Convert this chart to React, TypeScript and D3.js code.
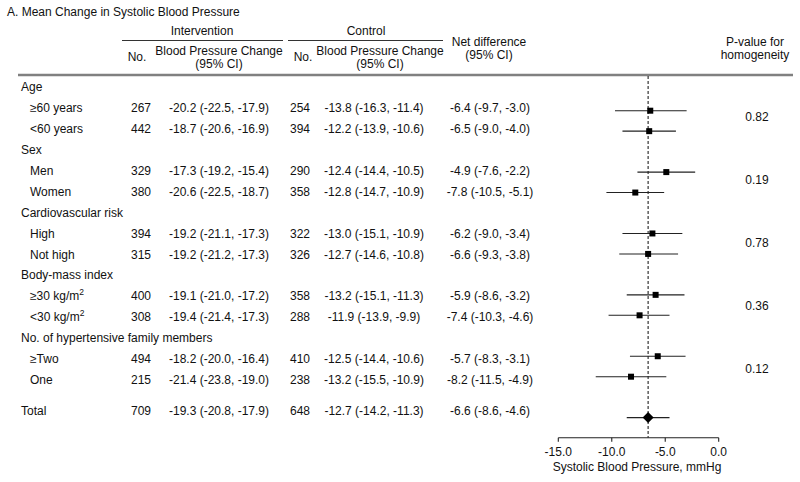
import React from "react";
import * as d3 from "d3";

// ---- Data ----
const rowLabels = [
  "Age", "≥60 years", "<60 years",
  "Sex", "Men", "Women",
  "Cardiovascular risk", "High", "Not high",
  "Body-mass index", "≥30 kg/m", "<30 kg/m",
  "No. of hypertensive family members", "≥Two", "One",
  "Total",
];
const isGroup = [true, false, false, true, false, false, true, false, false, true, false, false, true, false, false, false];
const hasSuper = [false, false, false, false, false, false, false, false, false, false, true, true, false, false, false, false];

const intNo = [null, 267, 442, null, 329, 380, null, 394, 315, null, 400, 308, null, 494, 215, 709];
const intMean = [null, -20.2, -18.7, null, -17.3, -20.6, null, -19.2, -19.2, null, -19.1, -19.4, null, -18.2, -21.4, -19.3];
const intLo = [null, -22.5, -20.6, null, -19.2, -22.5, null, -21.1, -21.2, null, -21.0, -21.4, null, -20.0, -23.8, -20.8];
const intHi = [null, -17.9, -16.9, null, -15.4, -18.7, null, -17.3, -17.3, null, -17.2, -17.3, null, -16.4, -19.0, -17.9];

const ctlNo = [null, 254, 394, null, 290, 358, null, 322, 326, null, 358, 288, null, 410, 238, 648];
const ctlMean = [null, -13.8, -12.2, null, -12.4, -12.8, null, -13.0, -12.7, null, -13.2, -11.9, null, -12.5, -13.2, -12.7];
const ctlLo = [null, -16.3, -13.9, null, -14.4, -14.7, null, -15.1, -14.6, null, -15.1, -13.9, null, -14.4, -15.5, -14.2];
const ctlHi = [null, -11.4, -10.6, null, -10.5, -10.9, null, -10.9, -10.8, null, -11.3, -9.9, null, -10.6, -10.9, -11.3];

const netMean = [null, -6.4, -6.5, null, -4.9, -7.8, null, -6.2, -6.6, null, -5.9, -7.4, null, -5.7, -8.2, -6.6];
const netLo = [null, -9.7, -9.0, null, -7.6, -10.5, null, -9.0, -9.3, null, -8.6, -10.3, null, -8.3, -11.5, -8.6];
const netHi = [null, -3.0, -4.0, null, -2.2, -5.1, null, -3.4, -3.8, null, -3.2, -4.6, null, -3.1, -4.9, -4.6];

const pValues = ["0.82", "0.19", "0.78", "0.36", "0.12"];
const pValueRows = [[1, 2], [4, 5], [7, 8], [10, 11], [13, 14]];

const xTicks = [-15, -10, -5, 0];
const refLine = -6.6;
const axisTitle = "Systolic Blood Pressure, mmHg";
const chartTitle = "A. Mean Change in Systolic Blood Pressure";

// ---- Layout ----
const W = 800, H = 482;
const FONT = "'Liberation Sans', Arial, Helvetica, sans-serif";
const FS = 12;
const TXT = "#111";

const x = d3.scaleLinear().domain([-15, 0]).range([558.3, 718.7]);
// text rows (Total sits a bit further down)
const yText = (i: number) => (i === 15 ? 410.7 : 86.7 + i * 20.95);
// forest panel rows
const yMark = d3.scaleLinear().domain([1, 14]).range([110.7, 376.7]);
const markIndex = (i: number) => (i === 15 ? 16 : i);

const fmt = (v: number) => v.toFixed(1);
const ci = (m: number, lo: number, hi: number) => `${fmt(m)} (${fmt(lo)}, ${fmt(hi)})`;

const col = { label: 21, sub: 30, intNo: 141, intChg: 219, ctlNo: 300, ctlChg: 374, net: 490, p: 757 };

export default function App() {
  const axisY = 437.7;
  return (
    <svg width={W} height={H} style={{ position: "absolute", left: 0, top: 0, background: "#fff" }}
      fontFamily={FONT} fontSize={FS} fill={TXT}>
      <rect x={0} y={0} width={W} height={H} fill="#fff" />
      {/* Title */}
      <text x={7} y={16}>{chartTitle}</text>

      {/* Column headers */}
      <text x={202} y={35} textAnchor="middle">Intervention</text>
      <line x1={122} x2={283} y1={40.5} y2={40.5} stroke="#333" strokeWidth={1} />
      <text x={366} y={35} textAnchor="middle">Control</text>
      <line x1={288} x2={443} y1={40.5} y2={40.5} stroke="#333" strokeWidth={1} />

      <text x={137} y={61} textAnchor="middle">No.</text>
      <text x={219} y={55} textAnchor="middle">Blood Pressure Change</text>
      <text x={219} y={68} textAnchor="middle">(95% CI)</text>
      <text x={303} y={61} textAnchor="middle">No.</text>
      <text x={380} y={55} textAnchor="middle">Blood Pressure Change</text>
      <text x={380} y={68} textAnchor="middle">(95% CI)</text>
      <text x={489} y={46} textAnchor="middle">Net difference</text>
      <text x={489} y={59} textAnchor="middle">(95% CI)</text>
      <text x={755} y={46} textAnchor="middle">P-value for</text>
      <text x={755} y={59} textAnchor="middle">homogeneity</text>

      <line x1={18} x2={793} y1={75} y2={75} stroke="#808080" strokeWidth={2.5} />

      {/* Rows */}
      {rowLabels.map((lab, i) => {
        const y = yText(i);
        const lx = isGroup[i] || i === 15 ? col.label : col.sub;
        return (
          <g key={i}>
            <text x={lx} y={y} dy="0.35em">
              {lab}
              {hasSuper[i] && <tspan dy="-5" fontSize={8.5}>2</tspan>}
            </text>
            {intNo[i] != null && (
              <>
                <text x={col.intNo} y={y} dy="0.35em" textAnchor="middle">{intNo[i]}</text>
                <text x={col.intChg} y={y} dy="0.35em" textAnchor="middle">{ci(intMean[i]!, intLo[i]!, intHi[i]!)}</text>
                <text x={col.ctlNo} y={y} dy="0.35em" textAnchor="middle">{ctlNo[i]}</text>
                <text x={col.ctlChg} y={y} dy="0.35em" textAnchor="middle">{ci(ctlMean[i]!, ctlLo[i]!, ctlHi[i]!)}</text>
                <text x={col.net} y={y} dy="0.35em" textAnchor="middle">{ci(netMean[i]!, netLo[i]!, netHi[i]!)}</text>
              </>
            )}
          </g>
        );
      })}

      {/* P-values */}
      {pValues.map((p, k) => {
        const [a, b] = pValueRows[k];
        const y = (yText(a) + yText(b)) / 2 - 1;
        return <text key={k} x={col.p} y={y} dy="0.35em" textAnchor="middle">{p}</text>;
      })}

      {/* Reference dashed line */}
      <line x1={x(refLine)} x2={x(refLine)} y1={76} y2={axisY} stroke="#333" strokeWidth={1.2} strokeDasharray="3,2" />

      {/* Forest marks */}
      {rowLabels.map((_, i) => {
        if (netMean[i] == null) return null;
        const y = yMark(markIndex(i));
        const cx = x(netMean[i]!);
        return (
          <g key={"m" + i}>
            <line x1={x(netLo[i]!)} x2={x(netHi[i]!)} y1={y} y2={y} stroke="#222" strokeWidth={1.1} />
            {i === 15 ? (
              <path d={`M${cx - 5.5},${y} L${cx},${y - 5.5} L${cx + 5.5},${y} L${cx},${y + 5.5} Z`} fill="#000" />
            ) : (
              <rect x={cx - 3} y={y - 3} width={6} height={6} fill="#000" />
            )}
          </g>
        );
      })}

      {/* Axis */}
      <line x1={x(-15)} x2={x(0)} y1={axisY} y2={axisY} stroke="#222" strokeWidth={1.1} />
      {xTicks.map((t) => (
        <g key={t}>
          <line x1={x(t)} x2={x(t)} y1={axisY} y2={axisY + 4} stroke="#222" strokeWidth={1.1} />
          <text x={x(t)} y={456} textAnchor="middle">{fmt(t)}</text>
        </g>
      ))}
      <text x={637} y={471} textAnchor="middle">{axisTitle}</text>
    </svg>
  );
}
